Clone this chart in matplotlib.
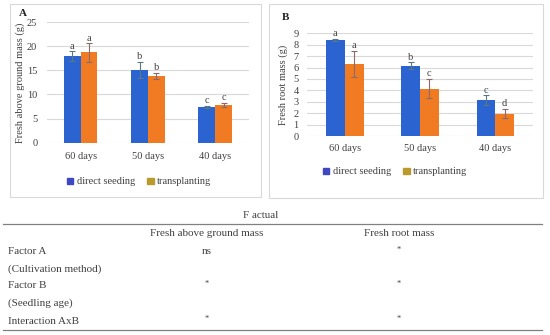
import numpy as np
import matplotlib
matplotlib.use('Agg')
import matplotlib.pyplot as plt
from matplotlib.patches import Rectangle, Patch
from matplotlib.lines import Line2D

plt.rcParams['font.family'] = ['Liberation Serif', 'DejaVu Serif']

# Data
ages = ['60 days', '50 days', '40 days']
series = ['direct seeding', 'transplanting']

shoot_direct = [17.9, 15.0, 7.4]
shoot_direct_err = [1.0, 1.7, 0.3]
shoot_trans = [18.7, 13.8, 7.8]
shoot_trans_err = [1.9, 0.7, 0.4]
shoot_letters_direct = ['a', 'b', 'c']
shoot_letters_trans = ['a', 'b', 'c']

root_direct = [8.4, 6.15, 3.15]
root_direct_err = [0.1, 0.3, 0.4]
root_trans = [6.3, 4.15, 1.95]
root_trans_err = [1.15, 0.85, 0.4]
root_letters_direct = ['a', 'b', 'c']
root_letters_trans = ['a', 'c', 'd']

# table data
table_title = 'F actual'
table_cols = ['Fresh above ground mass', 'Fresh root mass']
table_rows = ['Factor A', '(Cultivation method)', 'Factor B', '(Seedling age)', 'Interaction AxB']
table_vals = [['ns', '*'], ['', ''], ['*', '*'], ['', ''], ['*', '*']]

# Styling
c_direct = '#2B63D1'
c_trans = '#F07B22'
c_leg_direct = '#3F47C2'
c_leg_trans = '#B99A2E'
grid_c = '#D9D9D9'
text_c = '#404040'

W, H = 550, 335
fig = plt.figure(figsize=(5.5, 3.35), dpi=100)


def fx(px):
    return px / W


def fy(py):
    return 1 - py / H


# panel frames
for x0, x1, y0, y1 in [(10, 261, 4, 197), (269, 543, 4, 198)]:
    fig.add_artist(Rectangle((fx(x0), fy(y1)), fx(x1 - x0), (y1 - y0) / H,
                             transform=fig.transFigure, fill=False,
                             edgecolor='#D9D9D9', linewidth=0.8))


def bar_panel(rect, d, de, t, te, ld, lt, ymax, ystep, ylabel, tag, tag_pos,
              ylab_x, leg_pos, xtick_pad, ytick_pad):
    ax = fig.add_axes(rect)
    x = np.arange(len(ages))
    w = 0.25
    ax.bar(x - w / 2, d, w, color=c_direct, zorder=2)
    ax.bar(x + w / 2, t, w, color=c_trans, zorder=2)
    ax.errorbar(x - w / 2, d, yerr=de, fmt='none', ecolor='#5A7A80',
                elinewidth=0.8, capsize=2, capthick=0.8, zorder=3)
    ax.errorbar(x + w / 2, t, yerr=te, fmt='none', ecolor='#8A6A6A',
                elinewidth=0.8, capsize=2, capthick=0.8, zorder=3)
    for xi, v, e, s in zip(x - w / 2, d, de, ld):
        ax.annotate(s, (xi, v + e), xytext=(0, 0.5), textcoords='offset points',
                    ha='center', va='bottom', fontsize=7.5, color=text_c)
    for xi, v, e, s in zip(x + w / 2, t, te, lt):
        ax.annotate(s, (xi, v + e), xytext=(0, 0.5), textcoords='offset points',
                    ha='center', va='bottom', fontsize=7.5, color=text_c)
    ax.set_xlim(-0.5, 2.5)
    ax.set_ylim(0, ymax)
    ax.set_yticks(np.arange(0, ymax + 0.01, ystep))
    ax.set_xticks(x)
    ax.set_xticklabels(ages)
    ax.yaxis.grid(True, color=grid_c, linewidth=0.8)
    ax.set_axisbelow(True)
    for s in ax.spines.values():
        s.set_visible(False)
    ax.tick_params(length=0, labelsize=7.5, colors=text_c)
    ax.tick_params(axis='x', pad=xtick_pad)
    ax.tick_params(axis='y', pad=ytick_pad)
    fig.text(fx(ylab_x), rect[1] + rect[3] / 2, ylabel, rotation=90,
             ha='center', va='center', fontsize=7.5, color=text_c)
    fig.text(fx(tag_pos[0]), fy(tag_pos[1]), tag, ha='center', va='center',
             fontsize=8, fontweight='bold', color='#222222')
    handles = [Patch(color=c_leg_direct), Patch(color=c_leg_trans)]
    fig.legend(handles, series, loc='center', bbox_to_anchor=(fx(leg_pos[0]), fy(leg_pos[1])),
               ncol=2, frameon=False, fontsize=7.5, handlelength=0.6, handleheight=0.6,
               handletextpad=0.3, columnspacing=1.2, labelcolor=text_c)
    return ax


bar_panel([fx(47), fy(142.7), fx(202), (142.7 - 22) / H],
          shoot_direct, shoot_direct_err, shoot_trans, shoot_trans_err,
          shoot_letters_direct, shoot_letters_trans, 25, 5,
          'Fresh above ground mass (g)', 'A', (23, 13), 20, (139, 182), 7, 7)

bar_panel([fx(307), fy(136), fx(226), (136 - 33.3) / H],
          root_direct, root_direct_err, root_trans, root_trans_err,
          root_letters_direct, root_letters_trans, 9, 1,
          'Fresh root mass (g)', 'B', (285, 17), 283, (395, 172), 6, 6)

# table
tfs = 8
fig.text(fx(261), fy(216), table_title, ha='center', va='center', fontsize=tfs, color=text_c)
for yy in (224, 330):
    fig.add_artist(Line2D([fx(3), fx(542)], [fy(yy), fy(yy)], transform=fig.transFigure,
                          color='#808080', linewidth=0.9))
col_x = [207, 399]
for cx, name in zip(col_x, table_cols):
    fig.text(fx(cx), fy(233), name, ha='center', va='center', fontsize=tfs, color=text_c)
row_y = [252, 269, 286, 303, 321]
for ry, name, vals in zip(row_y, table_rows, table_vals):
    fig.text(fx(8), fy(ry), name, ha='left', va='center', fontsize=tfs, color=text_c)
    for cx, v in zip(col_x, vals):
        if v:
            fig.text(fx(cx), fy(ry - (2 if v == '*' else 0)), v, ha='center', va='center',
                     fontsize=tfs if v != '*' else 6, color=text_c)

fig.savefig('out.png', dpi=100)
